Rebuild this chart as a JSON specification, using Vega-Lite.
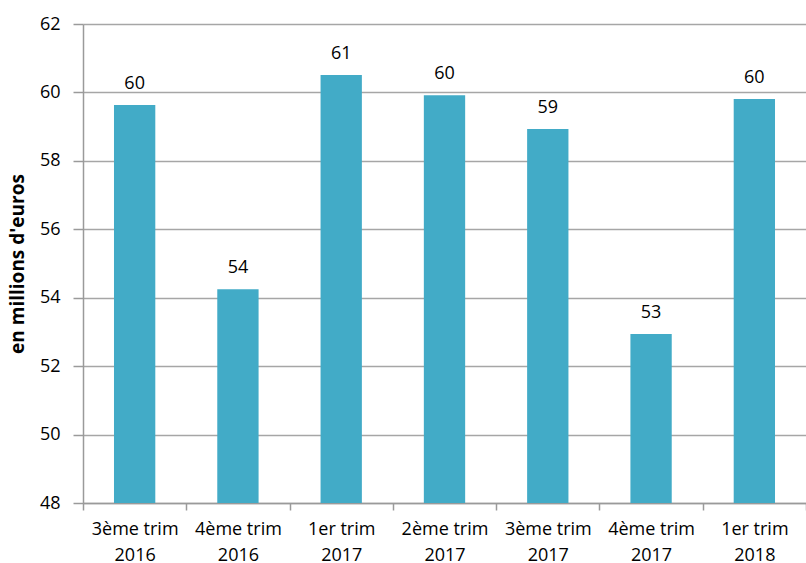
{
  "$schema": "https://vega.github.io/schema/vega-lite/v6.json",
  "width": 723,
  "height": 479,
  "autosize": {"type": "none"},
  "padding": {"left": 83, "top": 24, "right": 0, "bottom": 60},
  "background": "white",
  "config": {
    "view": {"stroke": null},
    "font": "Open Sans",
    "axis": {
      "labelFont": "Open Sans",
      "labelFontSize": 18,
      "labelColor": "#000000",
      "domainColor": "#9a9a9a",
      "tickColor": "#9a9a9a",
      "gridColor": "#a6a6a6",
      "domainWidth": 1.5,
      "tickWidth": 1.5,
      "gridWidth": 1.5
    }
  },
  "data": {
    "values": [
      {"trimestre": "3ème trim\n2016", "montant": 59.63},
      {"trimestre": "4ème trim\n2016", "montant": 54.25},
      {"trimestre": "1er trim\n2017", "montant": 60.51},
      {"trimestre": "2ème trim\n2017", "montant": 59.92},
      {"trimestre": "3ème trim\n2017", "montant": 58.93},
      {"trimestre": "4ème trim\n2017", "montant": 52.94},
      {"trimestre": "1er trim\n2018", "montant": 59.81}
    ]
  },
  "encoding": {
    "x": {
      "field": "trimestre",
      "type": "nominal",
      "sort": null,
      "scale": {"paddingInner": 0, "paddingOuter": 0},
      "axis": {
        "title": null,
        "labelAngle": 0,
        "labelExpr": "split(datum.label, '\\n')",
        "labelLineHeight": 26,
        "labelPadding": 10,
        "labelBaseline": "top",
        "tickBand": "extent",
        "tickSize": 7,
        "grid": false
      }
    },
    "y": {
      "field": "montant",
      "type": "quantitative",
      "scale": {"domain": [48, 62], "zero": false, "nice": false},
      "axis": {
        "title": "en millions d'euros",
        "titleFont": "Open Sans",
        "titleFontSize": 19,
        "titleFontWeight": "bold",
        "titleColor": "#000000",
        "titlePadding": 12,
        "values": [48, 50, 52, 54, 56, 58, 60, 62],
        "tickSize": 10,
        "labelPadding": 13,
        "grid": true
      }
    }
  },
  "layer": [
    {
      "mark": {"type": "bar", "color": "#42abc7", "width": {"band": 0.4}},
      "encoding": {"y2": {"datum": 48}}
    },
    {
      "mark": {
        "type": "text",
        "font": "Open Sans",
        "fontSize": 18,
        "color": "#000000",
        "baseline": "alphabetic",
        "dy": -16
      },
      "encoding": {
        "text": {"field": "montant", "type": "quantitative", "format": ".0f"}
      }
    }
  ]
}
